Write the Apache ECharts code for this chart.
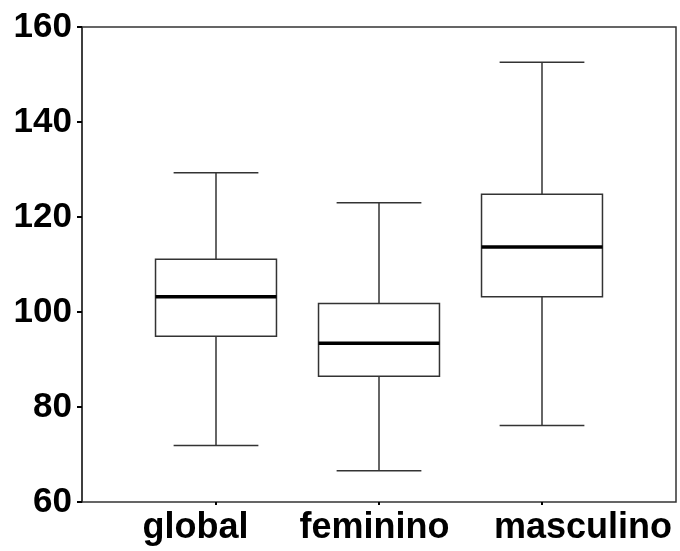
<!DOCTYPE html>
<html>
<head>
  <meta charset="UTF-8">
  <title>Boxplot global / feminino / masculino</title>
  <script src="https://cdn.jsdelivr.net/npm/echarts/dist/echarts.min.js"></script>
  <style>
    html, body { margin: 0; padding: 0; background: #fff; }
    #main { width: 680px; height: 551px; }
  </style>
</head>
<body>
  <div id="main"></div>

  <script>
    var groups = ['global', 'feminino', 'masculino'];
    var whiskerLow = [71.9, 66.6, 76.1];
    var q1 = [94.9, 86.5, 103.2];
    var median = [103.2, 93.4, 113.7];
    var q3 = [111.1, 101.8, 124.8];
    var whiskerHigh = [129.3, 123.0, 152.6];
    var yTicks = [60, 80, 100, 120, 140, 160];

    var boxData = groups.map(function (g, i) {
      return [i, whiskerLow[i], q1[i], median[i], q3[i], whiskerHigh[i]];
    });

    var lineCol = '#333333';
    var fontFam = '"Liberation Sans", Arial, sans-serif';

    function renderBox(params, api) {
      var x = api.value(0);
      var pLow = api.coord([x, api.value(1)]);
      var pQ1 = api.coord([x, api.value(2)]);
      var pMed = api.coord([x, api.value(3)]);
      var pQ3 = api.coord([x, api.value(4)]);
      var pHigh = api.coord([x, api.value(5)]);
      var slot = api.size([1, 0])[0];
      var bw = slot * 0.742;
      var cw = slot * 0.52;
      var cx = pMed[0];
      var thin = { stroke: lineCol, lineWidth: 1.5, fill: null };
      return {
        type: 'group',
        children: [
          { type: 'line', shape: { x1: cx, y1: pHigh[1], x2: cx, y2: pQ3[1] }, style: thin },
          { type: 'line', shape: { x1: cx, y1: pQ1[1], x2: cx, y2: pLow[1] }, style: thin },
          { type: 'line', shape: { x1: cx - cw / 2, y1: pHigh[1], x2: cx + cw / 2, y2: pHigh[1] }, style: thin },
          { type: 'line', shape: { x1: cx - cw / 2, y1: pLow[1], x2: cx + cw / 2, y2: pLow[1] }, style: thin },
          { type: 'rect', shape: { x: cx - bw / 2, y: pQ3[1], width: bw, height: pQ1[1] - pQ3[1] },
            style: { stroke: lineCol, lineWidth: 1.5, fill: '#ffffff' } },
          { type: 'line', shape: { x1: cx - bw / 2, y1: pMed[1], x2: cx + bw / 2, y2: pMed[1] },
            style: { stroke: '#000000', lineWidth: 3.5 } }
        ]
      };
    }

    var labelStyle = { color: '#000', fontSize: 36, fontWeight: 'bold', fontFamily: fontFam };

    var myChart = echarts.init(document.getElementById('main'));

    var option = {
      backgroundColor: '#ffffff',
      animation: false,
      grid: [
        { left: 82, right: 4, top: 27, bottom: 49, show: true, borderColor: lineCol, borderWidth: 1.5, backgroundColor: 'transparent' },
        { left: 134.5, right: 56.5, top: 27, bottom: 49 }
      ],
      xAxis: [
        { gridIndex: 0, type: 'value', show: false, min: 0, max: 1 },
        {
          gridIndex: 1,
          type: 'category',
          data: groups,
          axisLine: { show: false },
          axisTick: { show: true, alignWithLabel: true, length: 3, lineStyle: { color: '#000', width: 2 } },
          axisLabel: {
            interval: 0,
            hideOverlap: false,
            margin: 8,
            formatter: function (v, i) {
              return '{l' + i + '|' + v + '}';
            },
            rich: {
              l0: Object.assign({ padding: [0, 41, 0, 0] }, labelStyle),
              l1: Object.assign({ padding: [0, 9, 0, 0] }, labelStyle),
              l2: Object.assign({ padding: [0, 0, 0, 82] }, labelStyle)
            }
          },
          splitLine: { show: false }
        }
      ],
      yAxis: [
        {
          gridIndex: 0,
          type: 'value',
          min: yTicks[0],
          max: yTicks[yTicks.length - 1],
          interval: 20,
          axisLine: { show: true, lineStyle: { color: lineCol, width: 1.5 } },
          axisTick: { show: true, length: 5, lineStyle: { color: '#000', width: 2 } },
          axisLabel: { color: '#000', fontSize: 35, fontWeight: 'bold', fontFamily: fontFam, margin: 10 },
          splitLine: { show: false }
        },
        {
          gridIndex: 1,
          type: 'value',
          min: yTicks[0],
          max: yTicks[yTicks.length - 1],
          show: false,
          splitLine: { show: false }
        }
      ],
      series: [
        {
          type: 'custom',
          xAxisIndex: 1,
          yAxisIndex: 1,
          renderItem: renderBox,
          encode: { x: 0, y: [1, 2, 3, 4, 5] },
          data: boxData,
          clip: false
        }
      ]
    };

    myChart.setOption(option);
  </script>
</body>
</html>
